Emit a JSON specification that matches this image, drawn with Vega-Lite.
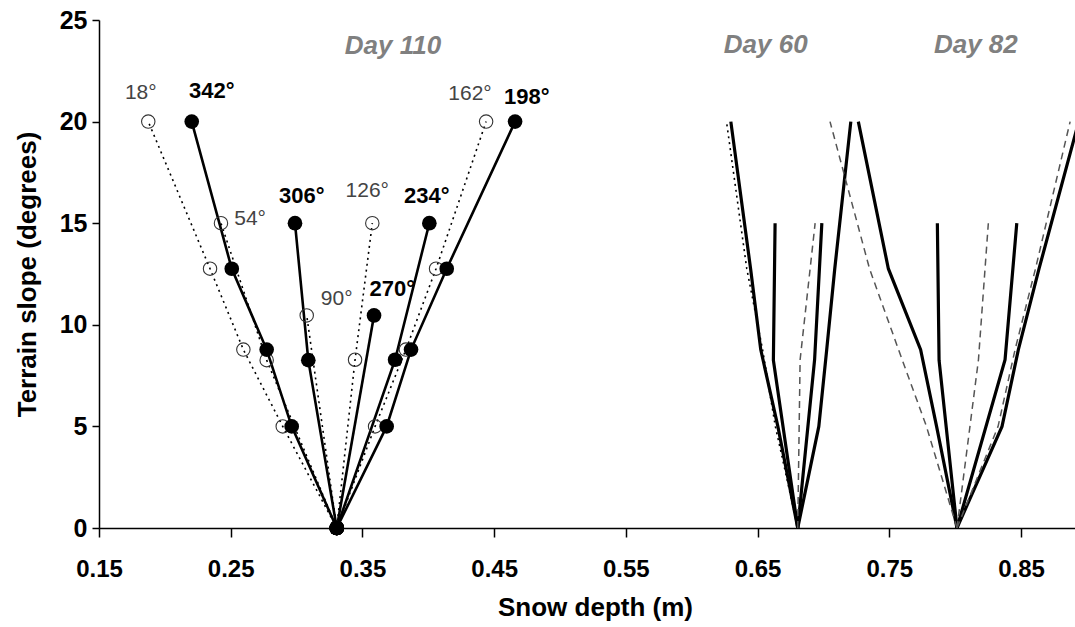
{
  "$schema": "https://vega.github.io/schema/vega-lite/v6.json",
  "width": 976,
  "height": 508,
  "autosize": "none",
  "padding": {"left": 99, "top": 20, "right": 0, "bottom": 99},
  "background": "#ffffff",
  "config": {"view": {"stroke": null}, "font": "Liberation Sans"},
  "datasets": {
    "profiles": [
      {"day": "110", "aspect": 18, "slope": 20, "depth": 0.1874},
      {"day": "110", "aspect": 18, "slope": 12.76, "depth": 0.2343},
      {"day": "110", "aspect": 18, "slope": 8.78, "depth": 0.2596},
      {"day": "110", "aspect": 18, "slope": 5, "depth": 0.2895},
      {"day": "110", "aspect": 18, "slope": 0, "depth": 0.3305},
      {"day": "110", "aspect": 54, "slope": 15, "depth": 0.2426},
      {"day": "110", "aspect": 54, "slope": 8.26, "depth": 0.2773},
      {"day": "110", "aspect": 54, "slope": 0, "depth": 0.3305},
      {"day": "110", "aspect": 90, "slope": 10.46, "depth": 0.3077},
      {"day": "110", "aspect": 90, "slope": 0, "depth": 0.3305},
      {"day": "110", "aspect": 126, "slope": 15, "depth": 0.3575},
      {"day": "110", "aspect": 126, "slope": 8.28, "depth": 0.3444},
      {"day": "110", "aspect": 126, "slope": 0, "depth": 0.3305},
      {"day": "110", "aspect": 162, "slope": 20, "depth": 0.4439},
      {"day": "110", "aspect": 162, "slope": 12.76, "depth": 0.4059},
      {"day": "110", "aspect": 162, "slope": 8.78, "depth": 0.383},
      {"day": "110", "aspect": 162, "slope": 5, "depth": 0.3596},
      {"day": "110", "aspect": 162, "slope": 0, "depth": 0.3305},
      {"day": "110", "aspect": 198, "slope": 20, "depth": 0.4659},
      {"day": "110", "aspect": 198, "slope": 12.76, "depth": 0.414},
      {"day": "110", "aspect": 198, "slope": 8.78, "depth": 0.3869},
      {"day": "110", "aspect": 198, "slope": 5, "depth": 0.3684},
      {"day": "110", "aspect": 198, "slope": 0, "depth": 0.3305},
      {"day": "110", "aspect": 234, "slope": 15, "depth": 0.4008},
      {"day": "110", "aspect": 234, "slope": 8.28, "depth": 0.3748},
      {"day": "110", "aspect": 234, "slope": 0, "depth": 0.3305},
      {"day": "110", "aspect": 270, "slope": 10.46, "depth": 0.3588},
      {"day": "110", "aspect": 270, "slope": 0, "depth": 0.3305},
      {"day": "110", "aspect": 306, "slope": 15, "depth": 0.2988},
      {"day": "110", "aspect": 306, "slope": 8.26, "depth": 0.3089},
      {"day": "110", "aspect": 306, "slope": 0, "depth": 0.3305},
      {"day": "110", "aspect": 342, "slope": 20, "depth": 0.2204},
      {"day": "110", "aspect": 342, "slope": 12.76, "depth": 0.2508},
      {"day": "110", "aspect": 342, "slope": 8.78, "depth": 0.2773},
      {"day": "110", "aspect": 342, "slope": 5, "depth": 0.2963},
      {"day": "110", "aspect": 342, "slope": 0, "depth": 0.3305},

      {"day": "60", "aspect": 18, "slope": 20, "depth": 0.6264},
      {"day": "60", "aspect": 18, "slope": 12.76, "depth": 0.6418},
      {"day": "60", "aspect": 18, "slope": 8.78, "depth": 0.6538},
      {"day": "60", "aspect": 18, "slope": 5, "depth": 0.6635},
      {"day": "60", "aspect": 18, "slope": 0, "depth": 0.6805},
      {"day": "60", "aspect": 126, "slope": 15, "depth": 0.6937},
      {"day": "60", "aspect": 126, "slope": 8.28, "depth": 0.6823},
      {"day": "60", "aspect": 126, "slope": 0, "depth": 0.6805},
      {"day": "60", "aspect": 198, "slope": 20, "depth": 0.7208},
      {"day": "60", "aspect": 198, "slope": 12.76, "depth": 0.7086},
      {"day": "60", "aspect": 198, "slope": 8.78, "depth": 0.7025},
      {"day": "60", "aspect": 198, "slope": 5, "depth": 0.6965},
      {"day": "60", "aspect": 198, "slope": 0, "depth": 0.6805},
      {"day": "60", "aspect": 234, "slope": 15, "depth": 0.6988},
      {"day": "60", "aspect": 234, "slope": 8.28, "depth": 0.6933},
      {"day": "60", "aspect": 234, "slope": 0, "depth": 0.6805},
      {"day": "60", "aspect": 306, "slope": 15, "depth": 0.6633},
      {"day": "60", "aspect": 306, "slope": 8.26, "depth": 0.662},
      {"day": "60", "aspect": 306, "slope": 0, "depth": 0.6805},
      {"day": "60", "aspect": 342, "slope": 20, "depth": 0.6297},
      {"day": "60", "aspect": 342, "slope": 12.76, "depth": 0.6447},
      {"day": "60", "aspect": 342, "slope": 8.78, "depth": 0.6524},
      {"day": "60", "aspect": 342, "slope": 5, "depth": 0.6654},
      {"day": "60", "aspect": 342, "slope": 0, "depth": 0.6805},

      {"day": "82", "aspect": 18, "slope": 20, "depth": 0.705},
      {"day": "82", "aspect": 18, "slope": 12.76, "depth": 0.735},
      {"day": "82", "aspect": 18, "slope": 8.78, "depth": 0.757},
      {"day": "82", "aspect": 18, "slope": 5, "depth": 0.7782},
      {"day": "82", "aspect": 18, "slope": 0, "depth": 0.8014},
      {"day": "82", "aspect": 126, "slope": 15, "depth": 0.8252},
      {"day": "82", "aspect": 126, "slope": 8.28, "depth": 0.8177},
      {"day": "82", "aspect": 126, "slope": 0, "depth": 0.8014},
      {"day": "82", "aspect": 162, "slope": 20, "depth": 0.8873},
      {"day": "82", "aspect": 162, "slope": 12.76, "depth": 0.861},
      {"day": "82", "aspect": 162, "slope": 8.78, "depth": 0.8455},
      {"day": "82", "aspect": 162, "slope": 5, "depth": 0.8326},
      {"day": "82", "aspect": 162, "slope": 0, "depth": 0.8014},
      {"day": "82", "aspect": 198, "slope": 20, "depth": 0.8938},
      {"day": "82", "aspect": 198, "slope": 12.76, "depth": 0.8637},
      {"day": "82", "aspect": 198, "slope": 8.78, "depth": 0.848},
      {"day": "82", "aspect": 198, "slope": 5, "depth": 0.8356},
      {"day": "82", "aspect": 198, "slope": 0, "depth": 0.8014},
      {"day": "82", "aspect": 234, "slope": 15, "depth": 0.8468},
      {"day": "82", "aspect": 234, "slope": 8.28, "depth": 0.8379},
      {"day": "82", "aspect": 234, "slope": 0, "depth": 0.8014},
      {"day": "82", "aspect": 306, "slope": 15, "depth": 0.7865},
      {"day": "82", "aspect": 306, "slope": 8.26, "depth": 0.7878},
      {"day": "82", "aspect": 306, "slope": 0, "depth": 0.8014},
      {"day": "82", "aspect": 342, "slope": 20, "depth": 0.7265},
      {"day": "82", "aspect": 342, "slope": 12.76, "depth": 0.7493},
      {"day": "82", "aspect": 342, "slope": 8.78, "depth": 0.7738},
      {"day": "82", "aspect": 342, "slope": 5, "depth": 0.7859},
      {"day": "82", "aspect": 342, "slope": 0, "depth": 0.8014}
    ],
    "aspectLabels": [
      {"label": "18°", "aspect": 18, "depth": 0.1817, "slope": 21.43},
      {"label": "54°", "aspect": 54, "depth": 0.2647, "slope": 15.19},
      {"label": "90°", "aspect": 90, "depth": 0.3305, "slope": 11.25},
      {"label": "126°", "aspect": 126, "depth": 0.3537, "slope": 16.58},
      {"label": "162°", "aspect": 162, "depth": 0.4317, "slope": 21.35},
      {"label": "198°", "aspect": 198, "depth": 0.4748, "slope": 21.23},
      {"label": "234°", "aspect": 234, "depth": 0.3988, "slope": 16.33},
      {"label": "270°", "aspect": 270, "depth": 0.3727, "slope": 11.77},
      {"label": "306°", "aspect": 306, "depth": 0.3039, "slope": 16.33},
      {"label": "342°", "aspect": 342, "depth": 0.2356, "slope": 21.5}
    ],
    "dayLabels": [
      {"label": "Day 110", "depth": 0.3732, "slope": 23.71},
      {"label": "Day 60", "depth": 0.6562, "slope": 23.76},
      {"label": "Day 82", "depth": 0.8157, "slope": 23.76}
    ]
  },
  "encoding": {
    "x": {
      "field": "depth", "type": "quantitative",
      "scale": {"domain": [0.15, 0.891], "nice": false, "zero": false},
      "axis": {
        "values": [0.15, 0.25, 0.35, 0.45, 0.55, 0.65, 0.75, 0.85],
        "format": ".2f", "title": "Snow depth (m)", "grid": false,
        "domainColor": "#000000", "domainWidth": 1.5,
        "tickColor": "#000000", "tickWidth": 1.5, "tickSize": 9,
        "labelFont": "Liberation Sans", "labelFontWeight": "bold", "labelFontSize": 24,
        "labelColor": "#000000", "labelPadding": 20, "labelFlush": false, "labelOverlap": false,
        "titleFont": "Liberation Sans", "titleFontWeight": "bold", "titleFontSize": 26,
        "titleColor": "#000000", "titleX": 496, "titleY": 79,
        "titleBaseline": "middle", "titleAlign": "center"
      }
    },
    "y": {
      "field": "slope", "type": "quantitative",
      "scale": {"domain": [0, 25], "nice": false},
      "axis": {
        "values": [0, 5, 10, 15, 20, 25], "title": "Terrain slope (degrees)", "grid": false,
        "domainColor": "#000000", "domainWidth": 1.5,
        "tickColor": "#000000", "tickWidth": 1.5, "tickSize": 7,
        "labelFont": "Liberation Sans", "labelFontWeight": "bold", "labelFontSize": 25,
        "labelColor": "#000000", "labelPadding": 5, "labelFlush": false, "labelOverlap": false,
        "titleFont": "Liberation Sans", "titleFontWeight": "bold", "titleFontSize": 26,
        "titleColor": "#000000", "titleX": -72, "titleY": 254, "titleAngle": -90,
        "titleBaseline": "middle", "titleAlign": "center"
      }
    }
  },
  "layer": [
    {
      "data": {"name": "profiles"},
      "transform": [{"filter": "datum.day == '110' && datum.aspect > 180"}],
      "mark": {"type": "line", "clip": true, "color": "#000000", "strokeWidth": 2.6},
      "encoding": {
        "detail": [{"field": "day"}, {"field": "aspect"}],
        "order": {"field": "slope", "type": "quantitative"}
      }
    },
    {
      "data": {"name": "profiles"},
      "transform": [{"filter": "datum.day != '110' && datum.aspect > 180"}],
      "mark": {"type": "line", "clip": true, "color": "#000000", "strokeWidth": 3.2},
      "encoding": {
        "detail": [{"field": "day"}, {"field": "aspect"}],
        "order": {"field": "slope", "type": "quantitative"}
      }
    },
    {
      "data": {"name": "profiles"},
      "transform": [{"filter": "datum.aspect < 180 && (datum.day == '110' || (datum.day == '60' && datum.aspect == 18))"}],
      "mark": {"type": "line", "clip": true, "color": "#000000", "strokeWidth": 1.6, "strokeDash": [2, 4]},
      "encoding": {
        "detail": [{"field": "day"}, {"field": "aspect"}],
        "order": {"field": "slope", "type": "quantitative"}
      }
    },
    {
      "data": {"name": "profiles"},
      "transform": [{"filter": "datum.aspect < 180 && datum.day != '110' && !(datum.day == '60' && datum.aspect == 18)"}],
      "mark": {"type": "line", "clip": true, "color": "#555555", "strokeWidth": 1.5, "strokeDash": [7, 5]},
      "encoding": {
        "detail": [{"field": "day"}, {"field": "aspect"}],
        "order": {"field": "slope", "type": "quantitative"}
      }
    },
    {
      "data": {"name": "profiles"},
      "transform": [{"filter": "datum.day == '110' && datum.aspect < 180"}],
      "mark": {"type": "point", "shape": "circle", "filled": false, "stroke": "#333333", "strokeWidth": 1.1, "size": 180, "opacity": 1},
      "encoding": {}
    },
    {
      "data": {"name": "profiles"},
      "transform": [{"filter": "datum.day == '110' && datum.aspect > 180"}],
      "mark": {"type": "point", "shape": "circle", "filled": true, "color": "#000000", "size": 215, "opacity": 1},
      "encoding": {}
    },
    {
      "data": {"name": "aspectLabels"},
      "transform": [{"filter": "datum.aspect < 180"}],
      "mark": {"type": "text", "font": "Liberation Sans", "fontSize": 21, "color": "#444444", "align": "center", "baseline": "middle"},
      "encoding": {"text": {"field": "label"}}
    },
    {
      "data": {"name": "aspectLabels"},
      "transform": [{"filter": "datum.aspect > 180"}],
      "mark": {"type": "text", "font": "Liberation Sans", "fontSize": 22, "fontWeight": "bold", "color": "#000000", "align": "center", "baseline": "middle"},
      "encoding": {"text": {"field": "label"}}
    },
    {
      "data": {"name": "dayLabels"},
      "mark": {"type": "text", "font": "Liberation Sans", "fontSize": 26, "fontWeight": "bold", "fontStyle": "italic", "color": "#808080", "align": "center", "baseline": "middle"},
      "encoding": {"text": {"field": "label"}}
    }
  ]
}
